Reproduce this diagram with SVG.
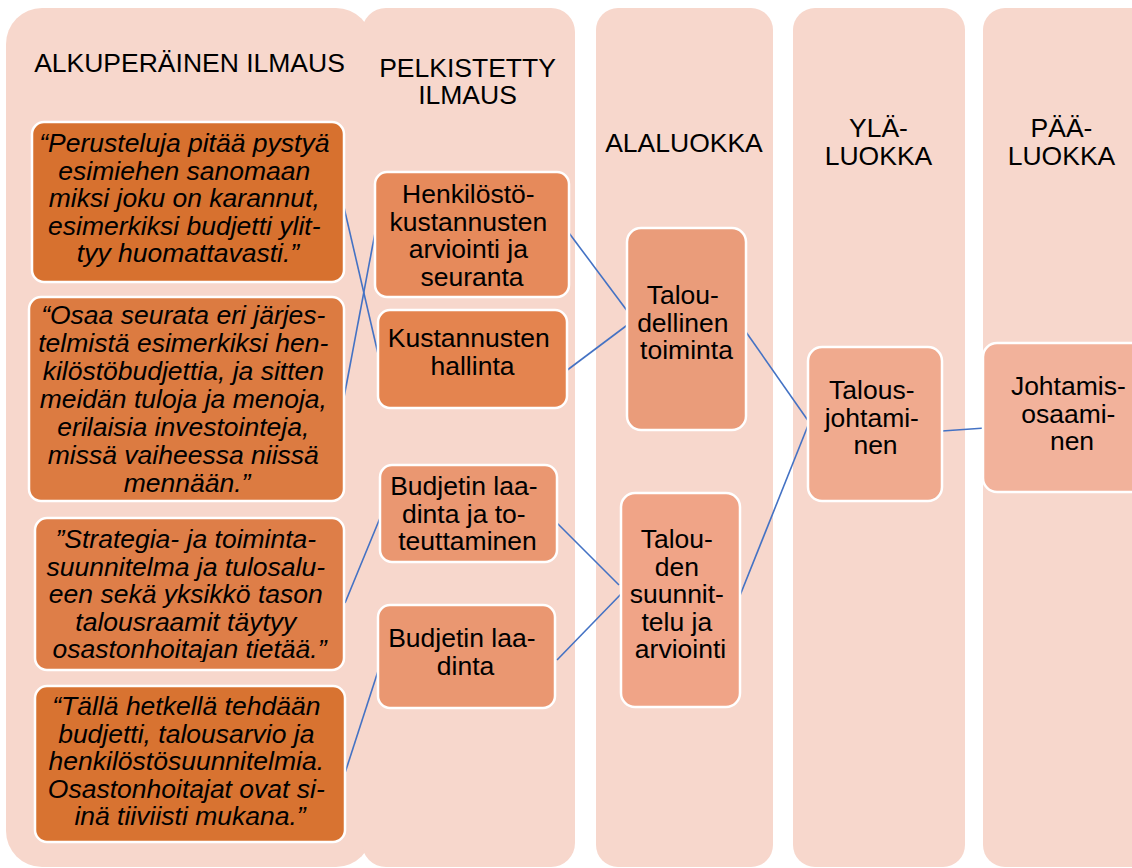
<svg xmlns="http://www.w3.org/2000/svg" width="1132" height="868" viewBox="0 0 1132 868">
<style>
  .col { fill: #F7D7CC; }
  .node { stroke: #FFFFFF; stroke-width: 2.5; }
  .hdr { font-family: "Liberation Sans", Arial, sans-serif; font-size: 26.5px; fill: #000; text-anchor: middle; }
  .txt { font-family: "Liberation Sans", Arial, sans-serif; font-size: 26.5px; fill: #000; text-anchor: middle; }
  .q { font-style: italic; }
  .conn line { stroke: #4472C4; stroke-width: 1.6; fill: none; }
</style>
<defs>
  <clipPath id="clipQ2"><rect x="29" y="297" width="315" height="195.5"/></clipPath>
  <clipPath id="clipQ3"><rect x="35" y="518" width="309" height="144"/></clipPath>
</defs>
<rect width="1132" height="868" fill="#FFFFFF"/>

<g id="columns">
  <rect class="col" x="6" y="8" width="366" height="859" rx="36" ry="36"/>
  <rect class="col" x="362" y="8" width="213" height="859" rx="24" ry="24"/>
  <rect class="col" x="596" y="8" width="177" height="859" rx="22" ry="22"/>
  <rect class="col" x="793" y="8" width="172" height="859" rx="22" ry="22"/>
  <rect class="col" x="983" y="8" width="172" height="859" rx="22" ry="22"/>
</g>

<g id="headers">
  <text class="hdr" x="189.5" y="72">ALKUPERÄINEN ILMAUS</text>
  <text class="hdr" x="467.5" y="77">PELKISTETTY</text>
  <text class="hdr" x="467.5" y="104">ILMAUS</text>
  <text class="hdr" x="684" y="152">ALALUOKKA</text>
  <text class="hdr" x="878.5" y="137">YLÄ-</text>
  <text class="hdr" x="878.5" y="165">LUOKKA</text>
  <text class="hdr" x="1061.5" y="137">PÄÄ-</text>
  <text class="hdr" x="1061.5" y="165">LUOKKA</text>
</g>

<g id="connectors" class="conn">
  <line x1="343" y1="203" x2="379" y2="358"/>
  <line x1="342" y1="408" x2="375" y2="233"/>
  <line x1="569" y1="233" x2="634" y2="320"/>
  <line x1="566" y1="371" x2="634" y2="320"/>
  <line x1="345" y1="603" x2="380" y2="518"/>
  <line x1="345" y1="773" x2="380" y2="665"/>
  <line x1="556" y1="522" x2="619" y2="585"/>
  <line x1="557" y1="660" x2="623" y2="592"/>
  <line x1="746" y1="332" x2="809" y2="422"/>
  <line x1="739" y1="598" x2="809" y2="423"/>
  <line x1="942" y1="431" x2="985" y2="428"/>
</g>

<g id="q1">
  <rect class="node" x="32" y="122" width="312" height="160" rx="12" fill="#D7712F"/>
  <text class="txt q" x="188">
    <tspan x="188" y="152">“Perusteluja pitää pystyä</tspan>
    <tspan x="188" y="179.5">esimiehen sanomaan</tspan>
    <tspan x="188" y="207">miksi joku on karannut,</tspan>
    <tspan x="188" y="234.5">esimerkiksi budjetti ylit-</tspan>
    <tspan x="188" y="262">tyy huomattavasti.”</tspan>
  </text>
</g>

<g id="q2">
  <rect class="node" x="29" y="297" width="315" height="204" rx="12" fill="#DC7B41"/>
  <text class="txt q" x="187" clip-path="url(#clipQ2)">
    <tspan x="187" y="324">“Osaa seurata eri järjes-</tspan>
    <tspan x="187" y="352">telmistä esimerkiksi hen-</tspan>
    <tspan x="187" y="380">kilöstöbudjettia, ja sitten</tspan>
    <tspan x="187" y="408">meidän tuloja ja menoja,</tspan>
    <tspan x="187" y="436">erilaisia investointeja,</tspan>
    <tspan x="187" y="464">missä vaiheessa niissä</tspan>
    <tspan x="187" y="492">mennään.”</tspan>
  </text>
</g>

<g id="q3">
  <rect class="node" x="35" y="518" width="309" height="152" rx="12" fill="#DE7E48"/>
  <text class="txt q" x="189.5" clip-path="url(#clipQ3)">
    <tspan x="189.5" y="548">”Strategia- ja toiminta-</tspan>
    <tspan x="189.5" y="575.5">suunnitelma ja tulosalu-</tspan>
    <tspan x="189.5" y="603">een sekä yksikkö tason</tspan>
    <tspan x="189.5" y="630.5">talousraamit täytyy</tspan>
    <tspan x="189.5" y="658">osastonhoitajan tietää.”</tspan>
  </text>
</g>

<g id="q4">
  <rect class="node" x="35" y="686" width="310" height="156" rx="12" fill="#D87331"/>
  <text class="txt q" x="190">
    <tspan x="190" y="715">“Tällä hetkellä tehdään</tspan>
    <tspan x="190" y="742.5">budjetti, talousarvio ja</tspan>
    <tspan x="190" y="770">henkilöstösuunnitelmia.</tspan>
    <tspan x="190" y="797.5">Osastonhoitajat ovat si-</tspan>
    <tspan x="190" y="825">inä tiiviisti mukana.”</tspan>
  </text>
</g>

<g id="b1">
  <rect class="node" x="375" y="172" width="194" height="125" rx="12" fill="#E68A5B"/>
  <text class="txt" x="472">
    <tspan x="472" y="203">Henkilöstö-</tspan>
    <tspan x="472" y="230.5">kustannusten</tspan>
    <tspan x="472" y="258">arviointi ja</tspan>
    <tspan x="472" y="285.5">seuranta</tspan>
  </text>
</g>

<g id="b2">
  <rect class="node" x="378" y="310" width="189" height="98" rx="12" fill="#E4844F"/>
  <text class="txt" x="472.5">
    <tspan x="472.5" y="347">Kustannusten</tspan>
    <tspan x="472.5" y="374.5">hallinta</tspan>
  </text>
</g>

<g id="b3">
  <rect class="node" x="380" y="465" width="177" height="97" rx="12" fill="#EA9771"/>
  <text class="txt" x="467.5">
    <tspan x="467.5" y="495">Budjetin laa-</tspan>
    <tspan x="467.5" y="522.5">dinta ja to-</tspan>
    <tspan x="467.5" y="550">teuttaminen</tspan>
  </text>
</g>

<g id="b4">
  <rect class="node" x="378" y="605" width="177" height="103" rx="12" fill="#EA9771"/>
  <text class="txt" x="465.5">
    <tspan x="465.5" y="647">Budjetin laa-</tspan>
    <tspan x="465.5" y="674.5">dinta</tspan>
  </text>
</g>

<g id="c1">
  <rect class="node" x="627" y="228" width="119" height="202" rx="14" fill="#EA9C7A"/>
  <text class="txt" x="686.5">
    <tspan x="686.5" y="304">Talou-</tspan>
    <tspan x="686.5" y="331.5">dellinen</tspan>
    <tspan x="686.5" y="359">toiminta</tspan>
  </text>
</g>

<g id="c2">
  <rect class="node" x="621" y="493" width="119" height="214" rx="14" fill="#F0A487"/>
  <text class="txt" x="680.5">
    <tspan x="680.5" y="548">Talou-</tspan>
    <tspan x="680.5" y="575.5">den</tspan>
    <tspan x="680.5" y="603">suunnit-</tspan>
    <tspan x="680.5" y="630.5">telu ja</tspan>
    <tspan x="680.5" y="658">arviointi</tspan>
  </text>
</g>

<g id="d1">
  <rect class="node" x="808" y="347" width="134" height="154" rx="14" fill="#F0AA8E"/>
  <text class="txt" x="875.5">
    <tspan x="875.5" y="399">Talous-</tspan>
    <tspan x="875.5" y="426.5">johtami-</tspan>
    <tspan x="875.5" y="454">nen</tspan>
  </text>
</g>

<g id="e1">
  <rect class="node" x="983" y="343" width="178" height="149" rx="14" fill="#F2B29B"/>
  <text class="txt" x="1072">
    <tspan x="1072" y="395">Johtamis-</tspan>
    <tspan x="1072" y="422.5">osaami-</tspan>
    <tspan x="1072" y="450">nen</tspan>
  </text>
</g>
</svg>
